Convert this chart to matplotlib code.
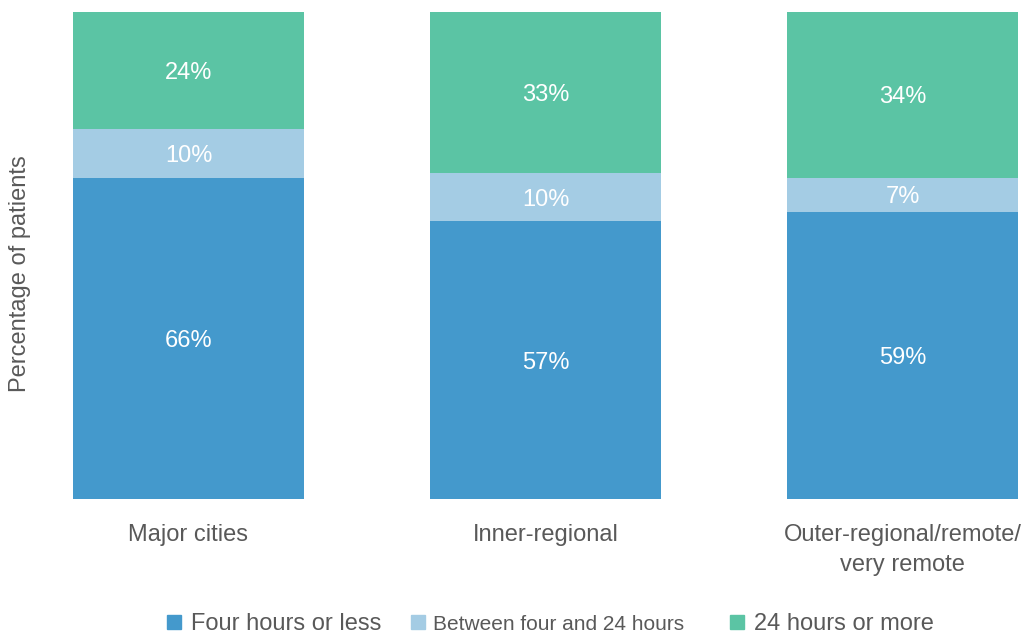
import matplotlib.pyplot as plt
from matplotlib.lines import Line2D
import numpy as np

plt.rcParams['font.family'] = ['Liberation Sans', 'DejaVu Sans']

categories = ["Major cities", "Inner-regional", "Outer-regional/remote/\nvery remote"]
series_names = ["Four hours or less", "Between four and 24 hours", "24 hours or more"]
four_or_less = [66, 57, 59]
four_to_24 = [10, 10, 7]
over_24 = [24, 33, 34]

colors = ["#4499cc", "#a4cce4", "#5bc4a4"]
grey = "#595959"

fig = plt.figure(figsize=(10.27, 6.35), dpi=100)
# axes placed to match the pixel box of the bars (73..1018 x, 12..499 y)
ax = fig.add_axes([73 / 1027, 1 - 499 / 635, (1018 - 73) / 1027, (499 - 12) / 635])

x = np.arange(len(categories))
width = 0.647
bottom = np.zeros(len(categories))
for vals, col in zip([four_or_less, four_to_24, over_24], colors):
    vals = np.array(vals)
    ax.bar(x, vals, width, bottom=bottom, color=col, edgecolor='none')
    for xi, b, v in zip(x, bottom, vals):
        ax.text(xi, b + v / 2, "{0}%".format(v), ha='center', va='center_baseline',
                color='white', fontsize=17)
    bottom += vals

ax.set_xlim(-width / 2, len(categories) - 1 + width / 2)
ax.set_ylim(0, 100)
ax.set_xticks(x)
ax.set_xticklabels(categories, fontsize=17, color=grey, linespacing=1.45)
ax.tick_params(axis='x', length=0, pad=18)
ax.set_yticks([])
for s in ax.spines.values():
    s.set_visible(False)

fig.text(20 / 1027, 1 - 274 / 635, "Percentage of patients", rotation=90,
         ha='center', va='center', fontsize=17, color=grey)

# legend items placed individually (uneven spacing in the original)
leg_x = [167, 412, 730]
leg_size = [17, 15, 17]
for name, col, lx, fs in zip(series_names, colors, leg_x, leg_size):
    h = Line2D([], [], marker='s', color=col, ls='', markersize=10)
    lg = fig.legend([h], [name], loc='center left',
                    bbox_to_anchor=(lx / 1027, 1 - 624 / 635), frameon=False,
                    fontsize=fs, handlelength=0.6, handletextpad=0.4,
                    borderaxespad=0, borderpad=0)
    for t in lg.get_texts():
        t.set_color(grey)

fig.savefig("out.png", dpi=100)
